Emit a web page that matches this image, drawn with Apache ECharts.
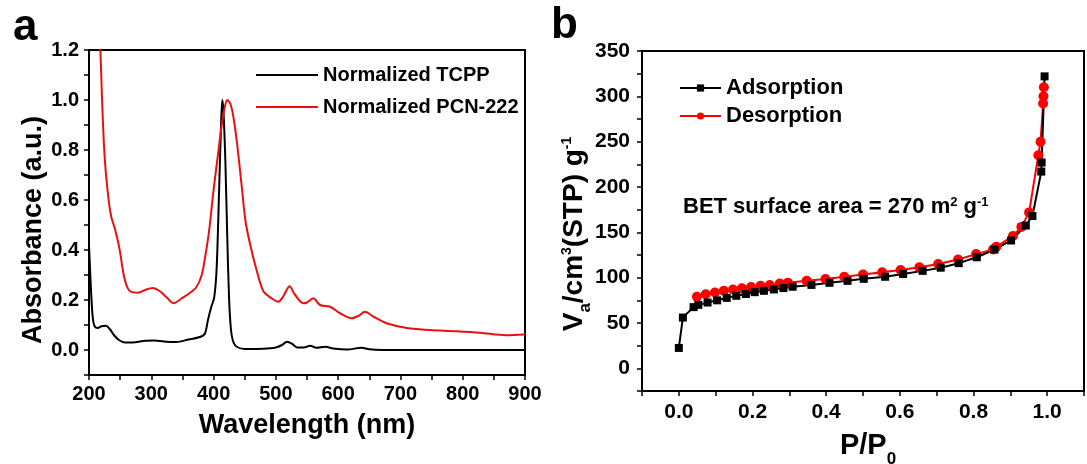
<!DOCTYPE html>
<html>
<head>
<meta charset="utf-8">
<script src="https://cdn.jsdelivr.net/npm/echarts@6/dist/echarts.min.js"></script>
<style>
html,body{margin:0;padding:0;background:#fff;}
#chart{width:1087px;height:464px;}
</style>
</head>
<body>
<div id="chart"></div>
<script>
// panel a: UV-vis, wavelength (nm) vs absorbance
var tcppX = [200,203,206,209,214,220,227,233,240,248,258,270,290,305,320,340,360,378,386,391,396,401,405,409,412,414,416,419,422,425,428,432,438,450,480,500,510,518,526,535,545,555,565,580,592,615,637,650,670,750,900];
var tcppY = [0.42,0.25,0.13,0.095,0.088,0.095,0.097,0.085,0.06,0.04,0.03,0.03,0.037,0.038,0.034,0.032,0.042,0.052,0.065,0.12,0.17,0.21,0.33,0.65,0.9,1.0,0.95,0.75,0.45,0.2,0.08,0.03,0.012,0.004,0.005,0.01,0.02,0.033,0.025,0.01,0.01,0.017,0.009,0.013,0.006,0.002,0.009,0.003,0,0,0];
var pcnX = [214,218,221,224,227,232,236,241,246,250,255,260,266,279,290,302,314,325,336,348,360,372,381,387,393,400,407,412,417,422,427,432,438,445,451,458,469,480,493,504,512,522,531,544,550,560,571,587,603,622,633,643,657,678,700,720,747,790,828,870,900];
var pcnY = [1.45,1.22,1.0,0.82,0.71,0.59,0.53,0.49,0.44,0.39,0.31,0.26,0.235,0.229,0.24,0.248,0.235,0.21,0.187,0.205,0.225,0.25,0.3,0.38,0.48,0.64,0.78,0.88,0.96,1.0,0.985,0.93,0.82,0.66,0.52,0.43,0.32,0.235,0.207,0.193,0.215,0.255,0.22,0.187,0.19,0.207,0.18,0.173,0.147,0.127,0.137,0.153,0.133,0.107,0.093,0.085,0.08,0.075,0.069,0.059,0.062];

// panel b: N2 isotherm, P/P0 vs Va
var adsP = [0,0.011,0.04,0.053,0.078,0.104,0.13,0.156,0.182,0.206,0.231,0.258,0.284,0.309,0.36,0.409,0.458,0.502,0.56,0.609,0.662,0.711,0.76,0.809,0.857,0.902,0.942,0.96,0.984,0.985,0.993];
var adsV = [22.5,56,67.5,70,72.6,75,77.7,80,82,84,85.5,87,88.5,90,92,94.3,96.5,98.7,101,104,107.5,111,116,122.5,131,141,157.5,168,217,227,322];
var desP = [0.991,0.990,0.989,0.982,0.976,0.951,0.93,0.907,0.862,0.853,0.807,0.758,0.704,0.653,0.602,0.552,0.5,0.449,0.398,0.347,0.296,0.274,0.247,0.222,0.196,0.171,0.147,0.122,0.098,0.073,0.049];
var desV = [310,300,292,250,235,172,156,146,134,131,126,120,115,111.5,108.5,106,103.5,101,98.5,96.5,94.5,93.5,92,91,89.7,88.3,87,85.5,83.7,81.7,79];

function pairs(xs, ys) {
    return xs.map(function (x, i) { return [x, ys[i]]; });
}

var chart = echarts.init(document.getElementById('chart'));
var FONT = 'Arial, "Liberation Sans", sans-serif';

function axisBase() {
    return {
        axisLine: {show: true, onZero: false, lineStyle: {color: '#000', width: 2}},
        axisTick: {show: true, inside: false, length: 5, lineStyle: {color: '#000', width: 1.5}},
        splitLine: {show: false},
        axisLabel: {color: '#000', fontFamily: FONT, fontWeight: 'bold', fontSize: 20}
    };
}

var xa = axisBase();
xa.gridIndex = 0; xa.type = 'value'; xa.min = 200; xa.max = 900; xa.interval = 50;
xa.axisLabel.margin = 9;
xa.axisLabel.formatter = function (v) { return v % 100 === 0 ? String(v) : ''; };

var ya = axisBase();
ya.gridIndex = 0; ya.type = 'value'; ya.min = -0.1; ya.max = 1.2; ya.interval = 0.1;
ya.axisLabel.margin = 10;
ya.axisLabel.formatter = function (v) {
    var k = Math.round(v * 10);
    return (k >= 0 && k % 2 === 0) ? (k / 10).toFixed(1) : '';
};

var xb = axisBase();
xb.gridIndex = 1; xb.type = 'value'; xb.min = -0.1; xb.max = 1.1; xb.interval = 0.1;
xb.axisLabel.margin = 11; xb.axisLabel.fontSize = 21;
xb.axisLabel.formatter = function (v) {
    var k = Math.round(v * 10);
    return (k >= 0 && k <= 10 && k % 2 === 0) ? (k / 10).toFixed(1) : '';
};

var yb = axisBase();
yb.gridIndex = 1; yb.type = 'value'; yb.min = -25; yb.max = 350; yb.interval = 25;
yb.axisLabel.margin = 12; yb.axisLabel.fontSize = 21;
yb.axisLabel.formatter = function (v) {
    return (v >= 0 && v % 50 === 0) ? String(v) : '';
};

var option = {
    backgroundColor: '#fff',
    animation: false,
    grid: [
        {left: 89, top: 50, width: 436, height: 325, show: true, borderColor: '#000', borderWidth: 2},
        {left: 642, top: 51, width: 450, height: 340, show: true, borderColor: '#000', borderWidth: 2}
    ],
    xAxis: [xa, xb],
    yAxis: [ya, yb],
    legend: [
        {
            data: ['Normalized TCPP', 'Normalized PCN-222'],
            orient: 'vertical', left: 250, top: 60,
            itemWidth: 62, itemHeight: 2, itemGap: 12,
            textStyle: {color: '#000', fontFamily: FONT, fontWeight: 'bold', fontSize: 20}
        },
        {
            data: ['Adsorption', 'Desorption'],
            orient: 'vertical', left: 674, top: 72,
            itemWidth: 41, itemHeight: 9, itemGap: 6,
            textStyle: {color: '#000', fontFamily: FONT, fontWeight: 'bold', fontSize: 22}
        }
    ],
    series: [
        {
            name: 'Normalized TCPP', type: 'line', xAxisIndex: 0, yAxisIndex: 0,
            data: pairs(tcppX, tcppY), symbol: 'none', smooth: 0.3,
            lineStyle: {color: '#000', width: 2}, itemStyle: {color: '#000'}
        },
        {
            name: 'Normalized PCN-222', type: 'line', xAxisIndex: 0, yAxisIndex: 0,
            data: pairs(pcnX, pcnY), symbol: 'none', smooth: 0.3, clip: true,
            lineStyle: {color: '#e8100f', width: 2}, itemStyle: {color: '#e8100f'}
        },
        {
            name: 'Desorption', type: 'line', xAxisIndex: 1, yAxisIndex: 1,
            data: pairs(desP, desV), symbol: 'circle', symbolSize: 10,
            lineStyle: {color: '#f00', width: 2}, itemStyle: {color: '#f00'}
        },
        {
            name: 'Adsorption', type: 'line', xAxisIndex: 1, yAxisIndex: 1,
            data: pairs(adsP, adsV), symbol: 'rect', symbolSize: 8,
            lineStyle: {color: '#000', width: 2}, itemStyle: {color: '#000'}
        }
    ],
    graphic: [
        {type: 'text', left: 13, top: 6, style: {text: 'a', font: 'bold 44px ' + FONT, fill: '#000'}},
        {type: 'text', left: 551, top: 4, style: {text: 'b', font: 'bold 44px ' + FONT, fill: '#000'}},
        {
            type: 'text', x: 307, y: 426,
            style: {text: 'Wavelength (nm)', font: 'bold 27px ' + FONT, fill: '#000', align: 'center', verticalAlign: 'middle'}
        },
        {
            type: 'text', x: 34, y: 230, rotation: Math.PI / 2,
            style: {text: 'Absorbance (a.u.)', font: 'bold 27px ' + FONT, fill: '#000', align: 'center', verticalAlign: 'middle'}
        },
        {
            type: 'text', x: 868, y: 446,
            style: {
                text: '{m|P/P}{s|0}', align: 'center', verticalAlign: 'middle', fill: '#000',
                rich: {
                    m: {fontFamily: FONT, fontWeight: 'bold', fontSize: 29, lineHeight: 44},
                    s: {fontFamily: FONT, fontWeight: 'bold', fontSize: 17, lineHeight: 17, verticalAlign: 'bottom'}
                }
            }
        },
        {
            type: 'text', x: 574, y: 234, rotation: Math.PI / 2,
            style: {
                text: '{m|V}{s|a}{m|/cm}{p|3}{m|(STP) g}{p|-1}', align: 'center', verticalAlign: 'middle', fill: '#000',
                rich: {
                    m: {fontFamily: FONT, fontWeight: 'bold', fontSize: 28, lineHeight: 40},
                    s: {fontFamily: FONT, fontWeight: 'bold', fontSize: 17, lineHeight: 17, verticalAlign: 'bottom'},
                    p: {fontFamily: FONT, fontWeight: 'bold', fontSize: 14, lineHeight: 14, verticalAlign: 'top', padding: [6, 0, 0, 0]}
                }
            }
        },
        {
            type: 'text', x: 683, y: 207,
            style: {
                text: '{m|BET surface area = 270 m}{p|2}{m| g}{p|-1}', align: 'left', verticalAlign: 'middle', fill: '#000',
                rich: {
                    m: {fontFamily: FONT, fontWeight: 'bold', fontSize: 22, lineHeight: 30},
                    p: {fontFamily: FONT, fontWeight: 'bold', fontSize: 13, lineHeight: 13, verticalAlign: 'top', padding: [4, 0, 0, 0]}
                }
            }
        }
    ]
};
chart.setOption(option);
</script>
</body>
</html>
